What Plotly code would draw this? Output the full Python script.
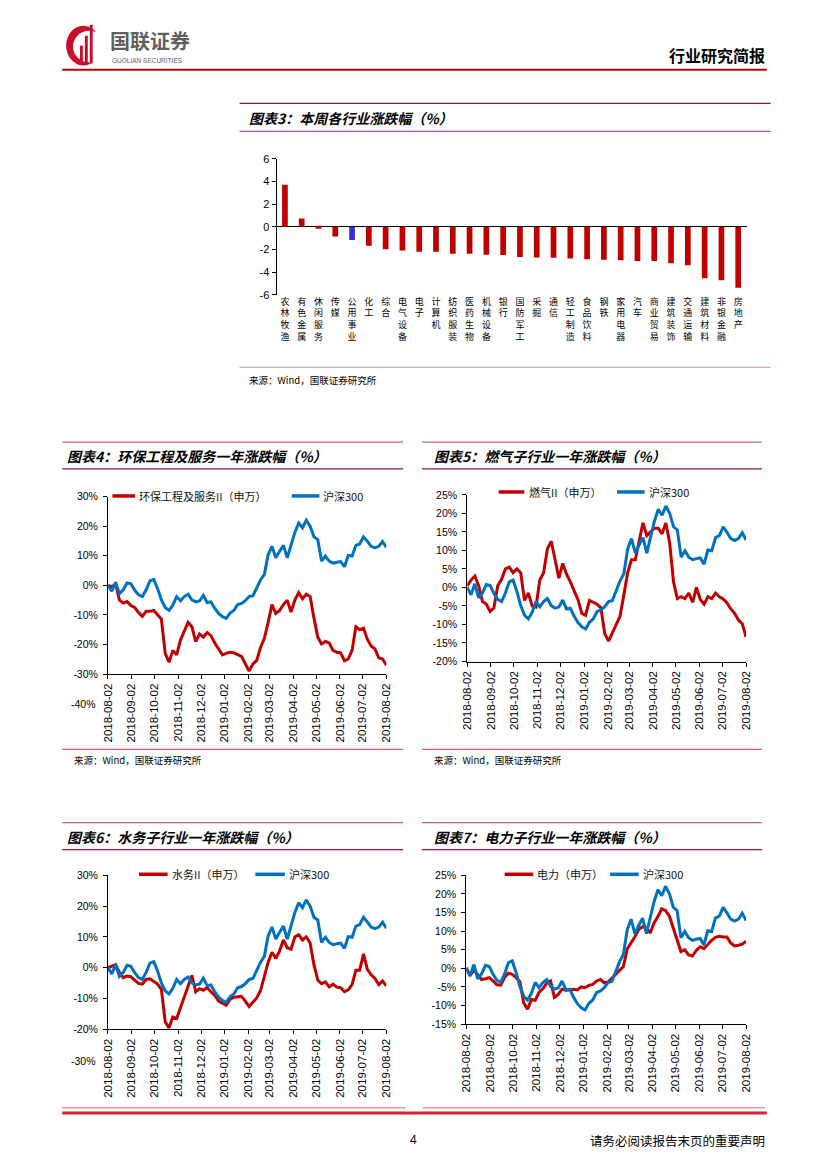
import plotly.graph_objects as go

W, H = 827, 1169
def px(x): return x / W
def py(y): return 1 - y / H

CJK = "Noto Sans CJK SC"
LAT = "Liberation Sans, Arial"
RED = "#C00000"
BLUE = "#0070C0"

# ---------------- data: chart 3 ----------------
industries = ["农林牧渔", "有色金属", "休闲服务", "传媒", "公用事业", "化工", "综合", "电气设备",
              "电子", "计算机", "纺织服装", "医药生物", "机械设备", "银行", "国防军工", "采掘",
              "通信", "轻工制造", "食品饮料", "钢铁", "家用电器", "汽车", "商业贸易", "建筑装饰",
              "交通运输", "建筑材料", "非银金融", "房地产"]
weekly_change = [3.70, 0.72, -0.17, -0.86, -1.18, -1.67, -1.99, -2.10, -2.22, -2.22, -2.39, -2.39,
                 -2.48, -2.50, -2.68, -2.71, -2.74, -2.80, -2.88, -2.91, -2.97, -3.03, -3.03, -3.23,
                 -3.40, -4.55, -4.73, -5.39]
highlight_industry = "公用事业"
bar_ticks = [-6, -4, -2, 0, 2, 4, 6]

# ---------------- data: one-year series (%) ----------------
dates = ["2018-08-02", "2018-08-07", "2018-08-12", "2018-08-17", "2018-08-22", "2018-08-27",
         "2018-09-01", "2018-09-06", "2018-09-11", "2018-09-16", "2018-09-21", "2018-09-26",
         "2018-10-01", "2018-10-06", "2018-10-11", "2018-10-16", "2018-10-21", "2018-10-26", "2018-10-31",
         "2018-11-05", "2018-11-10", "2018-11-15", "2018-11-20", "2018-11-25", "2018-11-30",
         "2018-12-05", "2018-12-10", "2018-12-15", "2018-12-20", "2018-12-25", "2018-12-30",
         "2019-01-04", "2019-01-09", "2019-01-14", "2019-01-19", "2019-01-24", "2019-01-29",
         "2019-02-03", "2019-02-08", "2019-02-13", "2019-02-18", "2019-02-23", "2019-02-28",
         "2019-03-05", "2019-03-10", "2019-03-15", "2019-03-20", "2019-03-25", "2019-03-30",
         "2019-04-04", "2019-04-09", "2019-04-14", "2019-04-19", "2019-04-24", "2019-04-29",
         "2019-05-04", "2019-05-09", "2019-05-14", "2019-05-19", "2019-05-24", "2019-05-29",
         "2019-06-03", "2019-06-08", "2019-06-13", "2019-06-18", "2019-06-23", "2019-06-28",
         "2019-07-03", "2019-07-08", "2019-07-13", "2019-07-18", "2019-07-23", "2019-07-28",
         "2019-08-02"]

hs300 = [0.0, -2.0, 1.0, -2.8, -1.5, 0.8, 0.5, -1.6, -3.2, -3.8,
         -1.5, 1.5, 2.0, -1.1, -4.9, -7.5, -8.5, -6.7, -3.8, -5.2,
         -3.8, -3.0, -4.9, -5.6, -5.3, -3.4, -5.8, -5.6, -7.8, -9.5,
         -10.6, -11.2, -9.4, -8.5, -6.5, -6.1, -5.2, -3.8, -3.5, -1.0,
         1.8, 3.7, 10.4, 13.2, 9.3, 11.5, 13.5, 9.3, 13.8, 17.9,
         21.1, 19.5, 22.0, 20.0, 16.4, 15.5, 8.2, 9.9, 8.2, 7.5,
         7.8, 8.0, 6.3, 10.1, 9.9, 13.5, 14.0, 16.4, 14.9, 13.2,
         12.7, 13.2, 14.8, 12.8]

env_service = [0.0, -0.5, 0.5, -5.0, -6.0, -5.5, -6.8, -7.5, -9.2, -10.5,
               -8.8, -8.8, -8.5, -9.8, -11.4, -23.0, -26.0, -22.0, -23.5, -18.5,
               -15.5, -12.5, -14.0, -19.0, -16.5, -17.5, -16.0, -17.0, -19.5, -21.5,
               -23.5, -23.0, -22.6, -22.8, -23.3, -24.0, -26.5, -29.0, -26.6, -25.4,
               -21.0, -18.0, -12.5, -6.5, -9.5, -8.5, -6.5, -5.0, -9.0, -5.0,
               -2.5, -4.5, -3.0, -3.8, -11.0, -17.5, -19.8, -19.0, -19.5, -22.0,
               -22.6, -22.8, -25.5, -24.9, -22.0, -14.0, -15.0, -14.5, -18.2, -20.5,
               -21.5, -24.5, -24.9, -27.0]

gas = [0.4, 2.0, 3.1, 0.5, -3.8, -4.5, -6.5, -5.5, 0.5, 2.2,
       5.0, 5.5, 4.0, 5.0, 4.0, -3.5, -1.5, -5.0, -5.3, 2.0,
       4.0, 10.5, 12.5, 7.5, 2.5, 6.5, 3.6, 1.5, -0.8, -3.3,
       -7.0, -7.5, -3.5, -4.0, -4.5, -5.5, -12.5, -14.5, -12.3, -10.4,
       -7.8, -2.0, 4.0, 7.5, 7.5, 12.5, 17.5, 14.0, 15.0, 16.0,
       16.0, 14.5, 17.4, 12.0, 1.5, -3.0, -2.5, -3.0, -1.5, -4.0,
       0.0, -3.2, -4.5, -2.5, -3.0, -1.5, -2.5, -3.1, -4.2, -5.8,
       -7.0, -8.8, -9.8, -13.4]

water = [0.0, 0.5, 1.0, -1.5, -3.2, -2.7, -2.9, -4.0, -5.1, -5.3,
         -3.8, -3.6, -4.4, -5.3, -7.0, -17.5, -19.5, -16.0, -16.5, -12.6,
         -9.5, -6.0, -2.5, -7.8, -6.8, -7.3, -6.5, -7.8, -9.0, -10.8,
         -11.6, -12.2, -10.2, -9.6, -9.4, -9.3, -10.8, -12.6, -11.2, -9.8,
         -7.4, -2.7, 1.8, 5.0, 3.0, 5.5, 9.0, 6.5, 6.0, 10.0,
         10.7, 9.0, 10.0, 8.0, 1.0, -4.0, -5.2, -4.6, -6.2, -5.3,
         -6.3, -6.5, -7.8, -7.2, -5.5, -0.8, -0.8, 4.5, -0.5, -2.3,
         -3.5, -5.5, -4.3, -5.9]

power = [0.2, -2.0, -0.4, -1.8, -3.0, -2.8, -2.5, -3.4, -4.4, -4.5,
         -2.5, -1.3, -1.6, -2.5, -3.6, -9.3, -11.0, -8.4, -8.6, -6.4,
         -5.5, -4.0, -3.4, -7.8, -7.0, -5.6, -5.9, -5.8, -5.6, -5.8,
         -5.0, -5.2, -4.6, -4.3, -3.4, -3.0, -3.9, -3.7, -2.6, -1.7,
         -0.6, 0.5, 5.2, 6.8, 8.5, 10.5, 11.2, 10.8, 9.5, 12.2,
         13.9, 16.0, 15.5, 14.0, 11.0, 7.5, 4.5, 5.0, 3.6, 3.3,
         4.8, 5.8, 5.3, 6.4, 7.5, 8.3, 8.6, 8.4, 8.4, 6.8,
         6.0, 6.2, 6.5, 7.3]

month_ticks = ["2018-08-02", "2018-09-02", "2018-10-02", "2018-11-02", "2018-12-02", "2019-01-02",
               "2019-02-02", "2019-03-02", "2019-04-02", "2019-05-02", "2019-06-02", "2019-07-02",
               "2019-08-02"]
env_ticks = [-30, -20, -10, 0, 10, 20, 30]
gas_ticks = [-20, -15, -10, -5, 0, 5, 10, 15, 20, 25]
water_ticks = [-20, -10, 0, 10, 20, 30]
power_ticks = [-15, -10, -5, 0, 5, 10, 15, 20, 25]

fig = go.Figure()
shapes = []
annos = []

def hline(y, x0, x1, color, width):
    shapes.append(dict(type="line", xref="paper", yref="paper", x0=px(x0), x1=px(x1),
                       y0=py(y), y1=py(y), line=dict(color=color, width=width)))

def text(x, y, s, size, color="#000", family=CJK, xanchor="left", yanchor="middle"):
    annos.append(dict(x=px(x), y=py(y), xref="paper", yref="paper", text=s, showarrow=False,
                      xanchor=xanchor, yanchor=yanchor, font=dict(family=family, size=size, color=color)))

# ---------------- chart 3: bars ----------------
bar_colors = ["#3333CC" if n == highlight_industry else RED for n in industries]
fig.add_trace(go.Bar(x=industries, y=weekly_change, marker=dict(color=bar_colors, line=dict(width=0)),
                     width=0.34, xaxis="x", yaxis="y", showlegend=False))
layout_axes = {}
layout_axes["xaxis"] = dict(domain=[px(274.5), px(751.5)], anchor="y", range=[-0.5, 27.5],
                            showline=False, ticks="", showgrid=False, zeroline=False,
                            tickvals=industries, ticktext=["<br>".join(n) for n in industries],
                            tickangle=0, tickfont=dict(family=CJK, size=9, color="#000"))
layout_axes["yaxis"] = dict(domain=[py(291.7), py(154.3)], anchor="x", range=[-6, 6],
                            tickvals=bar_ticks, ticktext=[str(v) for v in bar_ticks],
                            showline=True, linecolor="#000", linewidth=1, ticks="outside",
                            ticklen=4, tickcolor="#000", showgrid=False, zeroline=True,
                            zerolinecolor="#000", zerolinewidth=1,
                            tickfont=dict(family=LAT, size=11, color="#000"))

# ---------------- line panels ----------------
panels = [
    dict(n=2, label="环保工程及服务II（申万）", vals=env_service, ticks=env_ticks,
         xd=(103.5, 386), yd=(675, 495.7),
         leg=(108, 131, 133, 290, 318, 320, 495), extra=("-40%", 705)),
    dict(n=3, label="燃气II（申万）", vals=gas, ticks=gas_ticks,
         xd=(468, 751), yd=(662.3, 494),
         leg=(500, 526, 529, 620, 648, 650, 491), extra=None),
    dict(n=4, label="水务II（申万）", vals=water, ticks=water_ticks,
         xd=(103.5, 386), yd=(1034, 878.3),
         leg=(135, 164, 166, 253, 283, 285, 877.3), extra=("-30%", 1065.7)),
    dict(n=5, label="电力（申万）", vals=power, ticks=power_ticks,
         xd=(467, 751), yd=(1028.7, 878.3),
         leg=(506, 535, 537, 613, 642, 644, 877.3), extra=None),
]

for p in panels:
    n = p["n"]
    xa, ya = f"x{n}", f"y{n}"
    fig.add_trace(go.Scatter(x=dates, y=p["vals"], mode="lines", name=p["label"],
                             line=dict(color=RED, width=3), xaxis=xa, yaxis=ya, showlegend=False))
    fig.add_trace(go.Scatter(x=dates, y=hs300, mode="lines", name="沪深300",
                             line=dict(color=BLUE, width=3), xaxis=xa, yaxis=ya, showlegend=False))
    t = p["ticks"]
    layout_axes[f"xaxis{n}"] = dict(domain=[px(p["xd"][0]), px(p["xd"][1])], anchor=ya, type="date",
                                   range=[month_ticks[0], month_ticks[-1]],
                                   tickvals=month_ticks, ticktext=month_ticks, tickangle=-90,
                                   showline=True, linecolor="#000", linewidth=1, ticks="outside",
                                   ticklen=4, tickcolor="#000", showgrid=False, zeroline=False,
                                   tickfont=dict(family=LAT, size=11.5, color="#000"))
    layout_axes[f"yaxis{n}"] = dict(domain=[py(p["yd"][0]), py(p["yd"][1])], anchor=xa,
                                   range=[t[0], t[-1]], tickvals=t, ticktext=[f"{v}%" for v in t],
                                   showline=True, linecolor="#000", linewidth=1, ticks="outside",
                                   ticklen=4, tickcolor="#000", showgrid=False, zeroline=False,
                                   ticklabelstandoff=3,
                                   tickfont=dict(family=LAT, size=10.5, color="#000"))
    r0, r1, rt, b0, b1, bt, ly = p["leg"]
    shapes.append(dict(type="line", xref="paper", yref="paper", x0=px(r0), x1=px(r1), y0=py(ly), y1=py(ly),
                       line=dict(color=RED, width=3.5)))
    shapes.append(dict(type="line", xref="paper", yref="paper", x0=px(b0), x1=px(b1), y0=py(ly), y1=py(ly),
                       line=dict(color=BLUE, width=3.5)))
    text(rt, ly, p["label"], 11, "#111")
    text(bt, ly, "沪深300", 11, "#111")
    if p["extra"]:
        text(p["xd"][0] - 10, p["extra"][1], p["extra"][0], 10.5, "#000", LAT, xanchor="right")

# ---------------- page decorations ----------------
# header
shapes.append(dict(type="circle", xref="paper", yref="paper", x0=px(61), x1=px(96), y0=py(60), y1=py(20),
                   fillcolor="#C8102E", line=dict(width=0)))
shapes.append(dict(type="circle", xref="paper", yref="paper", x0=px(68), x1=px(101), y0=py(57), y1=py(25),
                   fillcolor="#FFFFFF", line=dict(width=0)))
for (a, b, top) in [(75, 78, 40), (80, 83, 30), (85, 88, 19)]:
    shapes.append(dict(type="rect", xref="paper", yref="paper", x0=px(a), x1=px(b), y0=py(58), y1=py(top),
                       fillcolor="#C8102E", line=dict(width=0)))
text(104, 35, "<b>国联证券</b>", 20, "#5f5f5f")
text(106, 55.5, "GUOLIAN SECURITIES", 6.5, "#5f5f5f", LAT)
text(772, 50, "<b>行业研究简报</b>", 16, "#000", xanchor="right")
hline(64.3, 57, 772, "#C00000", 2)

# chart 3 frame
hline(98.3, 237, 776, "#8B1A3A", 1.3)
hline(126.7, 237, 776, "#C8506A", 1.3)
hline(365, 237, 776, "#D88A9A", 1)
text(245, 113, "<b><i>图表3：本周各行业涨跌幅（%）</i></b>", 14)
text(245, 377.7, "来源：Wind，国联证券研究所", 9.5)

# charts 4 & 5 frames
for (x0, x1, tx, title) in [(57, 403, 60, "图表4：环保工程及服务一年涨跌幅（%）"),
                            (422, 767, 432, "图表5：燃气子行业一年涨跌幅（%）")]:
    hline(440.7, x0, x1, "#D06070", 1.3)
    hline(467.7, x0, x1, "#8B1A3A", 1.3)
    hline(751, x0, x1, "#D06070", 1.2)
    text(tx, 455, f"<b><i>{title}</i></b>", 14)
    text(tx + 7 if tx == 60 else tx, 761.7, "来源：Wind，国联证券研究所", 9.5)

# charts 6 & 7 frames
for (x0, x1, tx, title) in [(57, 403, 60, "图表6：水务子行业一年涨跌幅（%）"),
                            (422, 767, 432, "图表7：电力子行业一年涨跌幅（%）")]:
    hline(825, x0, x1, "#D06070", 1.3)
    hline(852.3, x0, x1, "#8B1A3A", 1.3)
    text(tx, 840, f"<b><i>{title}</i></b>", 14)

# footer
hline(1113.3, 57, 405, "#D06070", 1)
hline(1113.3, 423, 770, "#D06070", 1)
hline(1118.5, 57, 772, "#C8282D", 3)
text(413, 1146, "4", 12, "#000", LAT, xanchor="center")
text(772, 1146, "请务必阅读报告末页的重要声明", 12.5, "#000", xanchor="right")

fig.update_layout(width=W, height=H, margin=dict(l=0, r=0, t=0, b=0), autosize=False,
                  paper_bgcolor="#FFFFFF", plot_bgcolor="#FFFFFF", showlegend=False,
                  bargap=0.6, shapes=shapes, annotations=annos, **layout_axes)

fig.write_html("out.html", config={"displayModeBar": False},
               post_script="document.body.style.margin='0';document.body.style.overflow='hidden';")
